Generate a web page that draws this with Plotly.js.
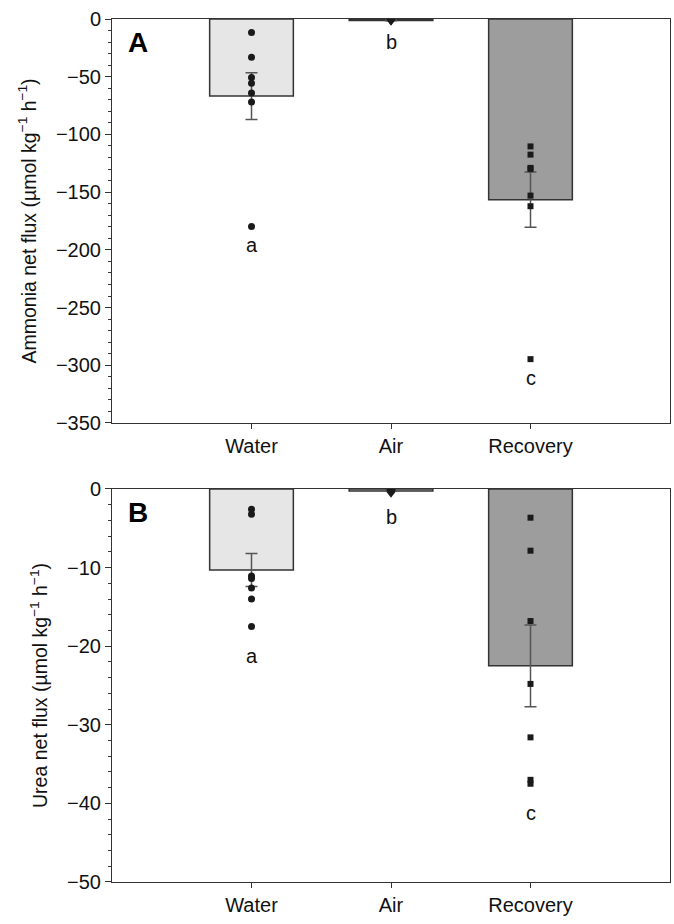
<!DOCTYPE html>
<html>
<head>
<meta charset="utf-8">
<script src="https://cdn.plot.ly/plotly-3.0.1.min.js"></script>
<style>html,body{margin:0;padding:0;background:#fff;}#chart{width:674px;height:924px;}</style>
</head>
<body>
<div id="chart"></div>
<script>
// ---- Data ----
const categories = ["Water", "Air", "Recovery"];
const catPos = [0, 1, 2];

// Panel A: ammonia net flux
const ammoniaMean = [-66.8, -1.2, -156.5];
const ammoniaSE = [20.2, 0.3, 24.0];
const ammoniaWater = [-11.8, -33.1, -50.7, -55.6, -64.2, -72.0, -179.8];
const ammoniaAir = [-0.5, -0.8, -1.0, -1.2, -1.5, -1.8, -2.4];
const ammoniaRecovery = [-110.4, -117.5, -129.0, -130.0, -153.0, -162.2, -294.7];
const ammoniaLetters = ["a", "b", "c"];
const ammoniaLetterY = [-196, -20, -311];

// Panel B: urea net flux
const ureaMean = [-10.3, -0.25, -22.5];
const ureaSE = [2.1, 0.05, 5.2];
const ureaWater = [-2.57, -3.2, -11.07, -11.4, -12.6, -14.0, -17.5];
const ureaAir = [-0.1, -0.2, -0.25, -0.3, -0.35, -0.45, -0.6];
const ureaRecovery = [-3.65, -7.85, -16.8, -24.8, -31.6, -37.0, -37.5];
const ureaLetters = ["a", "b", "c"];
const ureaLetterY = [-21.2, -3.6, -41.2];

const panelLabels = ["A", "B"];

// ---- Styles ----
const barColors = ["#e6e6e6", "#d0d0d0", "#9d9d9d"];
const ptColor = "#1a1a1a";
const fontFam = "Liberation Sans, Arial, sans-serif";

function repeat(v, n) { return Array(n).fill(v); }

function panelTraces(mean, se, water, air, rec, xa, ya) {
  return [
    {
      type: "bar", x: catPos, y: mean, width: 0.6, xaxis: xa, yaxis: ya,
      marker: { color: barColors, line: { color: "#333", width: 1.5 } },
      error_y: { type: "data", array: se, visible: true, color: "#555", thickness: 1.5, width: 6 },
      hoverinfo: "skip"
    },
    {
      type: "scatter", mode: "markers", x: repeat(catPos[0], water.length), y: water, xaxis: xa, yaxis: ya,
      marker: { symbol: "circle", size: 7, color: ptColor }
    },
    {
      type: "scatter", mode: "markers", x: repeat(catPos[1], air.length), y: air, xaxis: xa, yaxis: ya,
      marker: { symbol: "triangle-down", size: 8, color: ptColor }
    },
    {
      type: "scatter", mode: "markers", x: repeat(catPos[2], rec.length), y: rec, xaxis: xa, yaxis: ya,
      marker: { symbol: "square", size: 6, color: ptColor }
    }
  ];
}

const data = [].concat(
  panelTraces(ammoniaMean, ammoniaSE, ammoniaWater, ammoniaAir, ammoniaRecovery, "x", "y"),
  panelTraces(ureaMean, ureaSE, ureaWater, ureaAir, ureaRecovery, "x2", "y2")
);

function xAxis(anchor) {
  return {
    anchor: anchor, range: [-1, 3], tickvals: catPos, ticktext: categories,
    showline: true, linecolor: "#333", linewidth: 1, mirror: true,
    ticks: "outside", ticklen: 5, tickcolor: "#333", showgrid: false, zeroline: false,
    tickfont: { family: fontFam, size: 20, color: "#111" }
  };
}

function yAxis(anchor, domain, range, dtick, minorD, title) {
  return {
    anchor: anchor, domain: domain, range: range, dtick: dtick,
    showline: true, linecolor: "#333", linewidth: 1, mirror: true,
    ticks: "outside", ticklen: 6, tickcolor: "#333", showgrid: false, zeroline: false,
    minor: { dtick: minorD, ticks: "outside", ticklen: 3, tickcolor: "#333", showgrid: false },
    tickfont: { family: fontFam, size: 20, color: "#111" },
    title: { text: title, font: { family: fontFam, size: 19.5, color: "#111" }, standoff: 14 }
  };
}

const annotations = [];
categories.forEach((c, i) => {
  annotations.push({ x: catPos[i], y: ammoniaLetterY[i], xref: "x", yref: "y", text: ammoniaLetters[i],
    showarrow: false, font: { family: fontFam, size: 20, color: "#111" } });
  annotations.push({ x: catPos[i], y: ureaLetterY[i], xref: "x2", yref: "y2", text: ureaLetters[i],
    showarrow: false, font: { family: fontFam, size: 20, color: "#111" } });
});
annotations.push({ x: 0.025, y: 0.985, xref: "x domain", yref: "y domain", text: "<b>" + panelLabels[0] + "</b>",
  showarrow: false, xanchor: "left", yanchor: "top", font: { family: fontFam, size: 28, color: "#000" } });
annotations.push({ x: 0.025, y: 0.985, xref: "x2 domain", yref: "y2 domain", text: "<b>" + panelLabels[1] + "</b>",
  showarrow: false, xanchor: "left", yanchor: "top", font: { family: fontFam, size: 28, color: "#000" } });

const layout = {
  width: 674, height: 924,
  margin: { l: 112, r: 4, t: 19, b: 42 },
  paper_bgcolor: "#fff", plot_bgcolor: "#fff",
  showlegend: false,
  xaxis: xAxis("y"),
  xaxis2: xAxis("y2"),
  yaxis: yAxis("x", [0.5319, 1], [-350, 0], 50, 10, "Ammonia net flux (µmol kg<sup>−1</sup> h<sup>−1</sup>)"),
  yaxis2: yAxis("x2", [0, 0.4554], [-50, 0], 10, 2, "Urea net flux (µmol kg<sup>−1</sup> h<sup>−1</sup>)"),
  annotations: annotations
};

Plotly.newPlot("chart", data, layout, { displayModeBar: false, staticPlot: true });
</script>
</body>
</html>
